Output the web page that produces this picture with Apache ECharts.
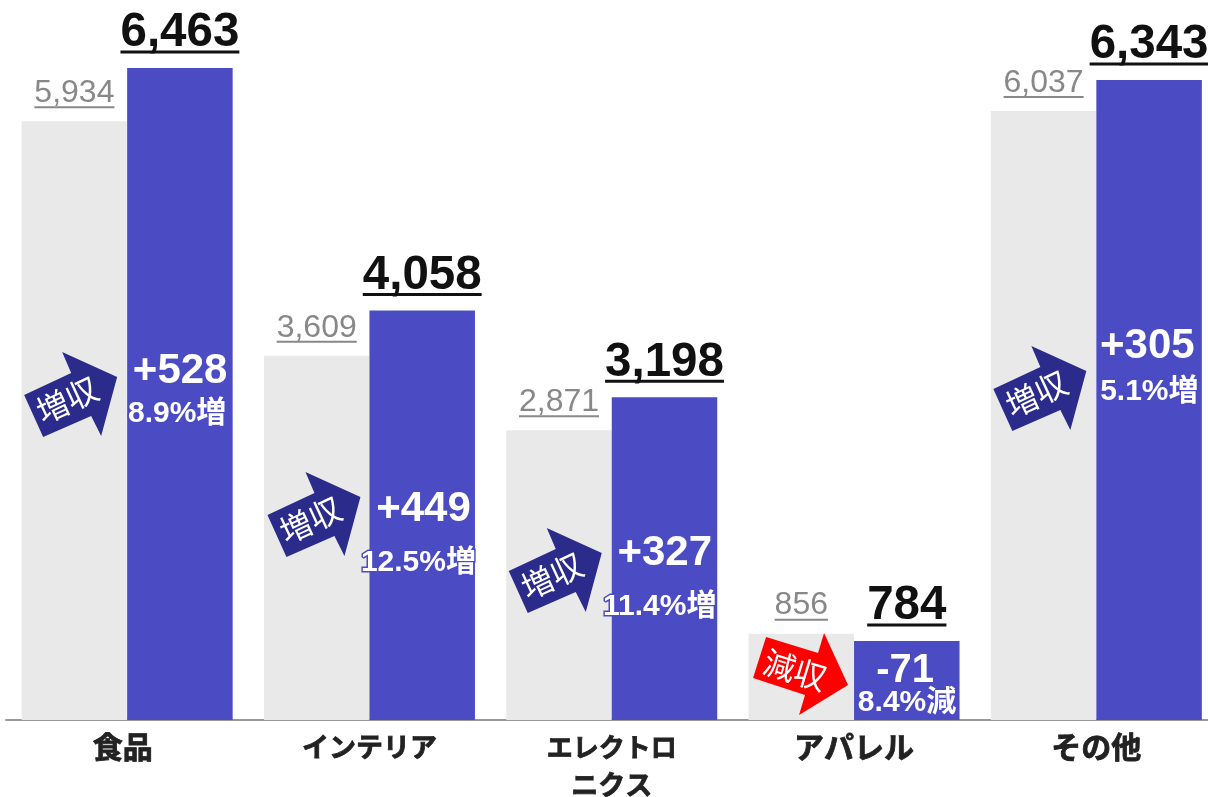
<!DOCTYPE html>
<html><head><meta charset="utf-8">
<style>html,body{margin:0;padding:0;background:#fff;overflow:hidden}#c{width:1208px;height:797px}</style>
<script src="https://cdn.jsdelivr.net/npm/echarts@6/dist/echarts.min.js"></script>
</head><body><div id="c"></div>
<script>
const categories = ['食品','インテリア','エレクトロ\nニクス','アパレル','その他'];
const previous = [5934,3609,2871,856,6037];
const current = [6463,4058,3198,784,6343];
const changeLabels = ['+528','+449','+327','-71','+305'];
const rateLabels = ['8.9%増','12.5%増','11.4%増','8.4%減','5.1%増'];
const arrowLabels = ['増収','増収','増収','減収','増収'];

// layout only: offsets in px from each category centre / above the baseline
const arrowPos = [[-57,327],[-56,207],[-57,151],[-53,48],[-57,333]];
const changePos = [[53,349],[54,211],[53,167],[51,49],[51,374]];
const ratePos = [[50,306],[49,157],[48,113],[53,17],[53,328]];
const catLabelSizes = [30,27,26,30,30];
const catLabelPad = [9,0,0,0,0];
const UP_ARROW = [[-27,44],[-46,2],[1,-20],[-8,-41],[47,-16],[31,43],[21,23]];
const DOWN_ARROW = [[-35,-35],[-48,6],[4,23],[-2,43],[47,13],[23,-39],[17,-19]];

const BLUE='#4b4bc4', GREY='#e9e9e9', DARK='#2b2b8c', RED='#ff0000';
const LATIN='"Liberation Sans",Arial,"Noto Sans CJK JP",sans-serif';
const CJK='"Noto Sans CJK JP",sans-serif';
const fmt=v=>v.toLocaleString('en-US');
const mctx=document.createElement('canvas').getContext('2d');
const textW=(s,f)=>{mctx.font=f;return mctx.measureText(s).width;};

function valueLabel(api,idx,val,dx,opt){
  const p=api.coord([idx,val]);
  const s=fmt(val), x=p[0]+dx, lineY=p[1]-opt.gap;
  const w=textW(s,opt.font);
  return [
    {type:'text',silent:true,style:{x,y:lineY-opt.up,text:s,font:opt.font,fill:opt.color,textAlign:'center',textVerticalAlign:'bottom'}},
    {type:'rect',silent:true,shape:{x:x-w/2,y:lineY-opt.th/2,width:w,height:opt.th},style:{fill:opt.color}}
  ];
}

const rich={};
catLabelSizes.forEach((sz,i)=>{
  rich['s'+i]={fontFamily:CJK,fontWeight:'bold',fontSize:sz,lineHeight:38,color:'#222',
    textBorderColor:'#222',textBorderWidth:0.8,padding:[0,catLabelPad[i],0,0]};
});
rich.n={fontFamily:CJK,fontWeight:'bold',fontSize:27,lineHeight:38,color:'#222',textBorderColor:'#222',textBorderWidth:0.8};

const chart=echarts.init(document.getElementById('c'),null,{renderer:'canvas'});
chart.setOption({
  animation:false,
  grid:{left:6,top:0,width:1211.5,height:720,containLabel:false,outerBoundsMode:'none'},
  xAxis:{type:'category',data:categories,
    axisTick:{show:false},
    axisLine:{lineStyle:{color:'#999',width:2}},
    axisLabel:{interval:0,margin:8,lineHeight:38,
      formatter:(v,i)=>v.split('\n').map((l,k)=>k===0?`{s${i}|${l}}`:`{n|${l}}`).join('\n'),
      rich}},
  yAxis:{type:'value',min:0,max:7136,show:false,splitLine:{show:false}},
  series:[
    {name:'前年',type:'bar',data:previous,barWidth:105.5,barGap:0,itemStyle:{color:GREY}},
    {name:'当年',type:'bar',data:current,barWidth:105.5,barGap:0,itemStyle:{color:BLUE}},
    {type:'custom',data:categories.map((c,i)=>[i]),z:5,clip:false,silent:true,
      encode:{x:0},
      renderItem(params,api){
        const i=api.value(0), c=api.coord([i,0]), down=arrowLabels[i]==='減収';
        const cx=c[0]+arrowPos[i][0], cy=c[1]-arrowPos[i][1];
        return {type:'group',children:[
          {type:'polygon',shape:{points:(down?DOWN_ARROW:UP_ARROW).map(p=>[cx+p[0],cy+p[1]])},style:{fill:down?RED:DARK}},
          {type:'text',x:cx+(down?-6:-3),y:cy+(down?-2:7),rotation:(down?-17:25)*Math.PI/180,
            style:{text:arrowLabels[i],font:'32px '+CJK,fill:'#fff',textAlign:'center',textVerticalAlign:'middle'}},
          {type:'text',style:{x:c[0]+changePos[i][0],y:c[1]-changePos[i][1],text:changeLabels[i],font:'bold '+(i===3?40:42)+'px '+LATIN,fill:'#fff',textAlign:'center',textVerticalAlign:'middle'}},
          {type:'text',style:{x:c[0]+ratePos[i][0],y:c[1]-ratePos[i][1],text:rateLabels[i],font:'bold 30px '+LATIN,fill:'#fff',stroke:BLUE,lineWidth:3,textAlign:'center',textVerticalAlign:'middle'}},
          ...valueLabel(api,i,previous[i],-52.75,{font:'32px '+LATIN,color:'#888',gap:14,up:-2,th:2}),
          ...valueLabel(api,i,current[i],52.75,{font:'bold 47.5px '+LATIN,color:'#111',gap:16,up:-5,th:3})
        ]};
      }}
  ]
});
</script></body></html>
